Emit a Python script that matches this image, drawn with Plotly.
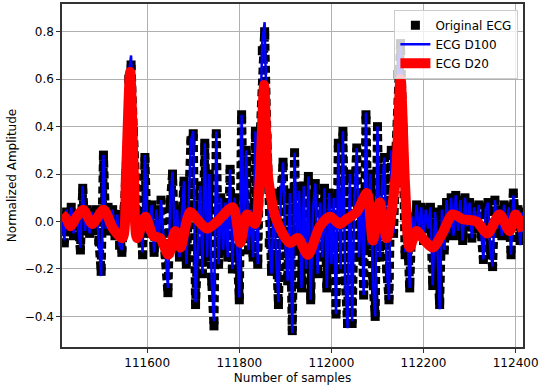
import plotly.graph_objects as go

# ---- data ----
x_start = 111415
x_step = 5

original_ecg = [
    0.02, -0.09, 0.04, -0.03, 0.06, -0.06, 0.03, -0.02, -0.12, 0.14,
    -0.04, 0.05, -0.05, 0.04, -0.03, 0.05, -0.08, -0.21, 0.28, -0.03,
    0.06, -0.04, 0.05, -0.06, 0.03, -0.10, -0.13, 0.05, 0.30, 0.60,
    0.66, 0.38, 0.05, -0.06, 0.03, -0.14, 0.27, -0.05, 0.02, 0.07,
    -0.13, 0.05, -0.08, 0.09, -0.05, -0.14, -0.30, 0.08, 0.20, -0.10,
    0.05, -0.15, 0.02, 0.17, -0.18, 0.12, 0.34, 0.37, -0.35, -0.10,
    0.15, -0.22, 0.33, -0.15, 0.20, -0.25, -0.44, 0.37, -0.18, 0.10,
    -0.12, 0.08, -0.15, 0.22, -0.20, 0.10, -0.12, -0.33, 0.45, -0.05,
    0.30, -0.12, 0.05, -0.15, 0.38, -0.18, 0.35, 0.72, 0.80, 0.35,
    -0.09, -0.21, 0.12, -0.15, -0.35, 0.10, 0.25, -0.10, -0.25, 0.12,
    -0.46, 0.29, -0.10, 0.13, -0.28, 0.15, -0.20, 0.19, -0.33, 0.05,
    0.16, -0.22, 0.08, -0.15, 0.14, -0.28, 0.12, -0.18, 0.10, -0.39,
    0.33, -0.20, 0.38, -0.25, -0.43, 0.20, -0.43, 0.10, 0.31, -0.15,
    0.12, -0.31, 0.45, -0.10, 0.20, -0.25, -0.40, 0.40, -0.15, 0.15,
    0.27, -0.20, -0.33, 0.30, -0.05, 0.30, 0.62, 0.75, 0.40, -0.14,
    -0.05, -0.28, 0.02, -0.06, 0.07, -0.04, 0.06, -0.08, 0.05, -0.03,
    0.06, -0.27, 0.04, -0.10, -0.35, 0.05, -0.12, 0.08, -0.05, 0.10,
    -0.06, 0.11, -0.04, 0.09, -0.08, 0.10, -0.02, 0.08, -0.07, 0.06,
    -0.03, 0.07, -0.05, -0.16, 0.05, 0.08, -0.12, -0.19, 0.09, -0.03,
    0.05, -0.06, 0.07, -0.04, 0.06, -0.14, 0.12, -0.02, 0.05, -0.08,
    0.04,
]

ecg_d100 = [
    0.02, -0.08, 0.05, -0.03, 0.06, -0.05, 0.03, -0.02, -0.11, 0.15,
    -0.04, 0.05, -0.05, 0.04, -0.03, 0.05, -0.08, -0.23, 0.28, -0.03,
    0.06, -0.04, 0.05, -0.06, 0.03, -0.10, -0.12, 0.05, 0.32, 0.62,
    0.70, 0.38, 0.05, -0.06, 0.03, -0.13, 0.28, -0.05, 0.02, 0.07,
    -0.13, 0.05, -0.08, 0.09, -0.05, -0.14, -0.28, 0.08, 0.21, -0.10,
    0.05, -0.15, 0.02, 0.17, -0.18, 0.12, 0.34, 0.38, -0.34, -0.10,
    0.15, -0.22, 0.33, -0.15, 0.20, -0.25, -0.42, 0.38, -0.18, 0.10,
    -0.12, 0.08, -0.15, 0.22, -0.20, 0.10, -0.12, -0.32, 0.45, -0.05,
    0.30, -0.12, 0.05, -0.15, 0.38, -0.18, 0.38, 0.76, 0.84, 0.37,
    -0.09, -0.22, 0.12, -0.15, -0.34, 0.10, 0.25, -0.10, -0.25, 0.12,
    -0.47, 0.29, -0.10, 0.13, -0.28, 0.15, -0.20, 0.19, -0.33, 0.05,
    0.16, -0.22, 0.08, -0.15, 0.14, -0.28, 0.12, -0.18, 0.10, -0.39,
    0.33, -0.20, 0.38, -0.25, -0.45, 0.20, -0.42, 0.10, 0.31, -0.15,
    0.12, -0.31, 0.46, -0.10, 0.20, -0.25, -0.40, 0.40, -0.15, 0.15,
    0.27, -0.20, -0.33, 0.30, -0.05, 0.30, 0.64, 0.74, 0.40, -0.13,
    -0.05, -0.28, 0.02, -0.06, 0.07, -0.04, 0.06, -0.08, 0.05, -0.03,
    0.06, -0.27, 0.04, -0.10, -0.37, 0.05, -0.12, 0.09, -0.05, 0.10,
    -0.06, 0.11, -0.04, 0.09, -0.08, 0.10, -0.02, 0.08, -0.07, 0.06,
    -0.03, 0.07, -0.05, -0.16, 0.05, 0.08, -0.12, -0.19, 0.09, -0.03,
    0.05, -0.06, 0.07, -0.04, 0.06, -0.14, 0.11, -0.02, 0.05, -0.10,
    0.04,
]

d20_x = [
    111415, 111425, 111433, 111447, 111461, 111481, 111505, 111526, 111546,
    111554, 111563, 111571, 111578, 111596, 111613, 111628, 111646, 111661,
    111672, 111693, 111708, 111730, 111752, 111786, 111802, 111817, 111834,
    111845, 111854, 111863, 111882, 111910, 111927, 111949, 111975, 111997,
    112018, 112033, 112055, 112077, 112090, 112105, 112120, 112140, 112150,
    112160, 112170, 112185, 112202, 112220, 112241, 112263, 112285, 112315,
    112339, 112365, 112387, 112400, 112416,
]
d20_y = [
    0.03, 0.01, -0.02, 0.02, 0.05, -0.01, 0.05, -0.03, -0.07,
    0.20, 0.63, 0.20, -0.07, 0.02, -0.06, -0.07, -0.14, -0.04,
    -0.11, 0.04, 0.01, -0.03, 0.00, 0.06, -0.09, 0.03, -0.01,
    0.20, 0.575, 0.18, 0.00, -0.09, -0.07, -0.14, -0.02, 0.02,
    -0.01, 0.01, 0.04, 0.12, -0.08, 0.08, -0.07, 0.20, 0.60,
    0.15, -0.11, -0.04, -0.08, -0.11, -0.05, 0.03, 0.01, 0.00,
    -0.05, 0.03, -0.04, 0.03, -0.04,
]

x_tick_vals = [111600, 111800, 112000, 112200, 112400]
y_tick_vals = [-0.4, -0.2, 0.0, 0.2, 0.4, 0.6, 0.8]

samples = [x_start + i * x_step for i in range(len(original_ecg))]

fig = go.Figure()

# dashed-looking black band under the original ECG markers
fig.add_trace(go.Scatter(
    x=samples, y=original_ecg, mode="lines",
    line=dict(color="black", width=9, dash="7px,4px"),
    showlegend=False, hoverinfo="skip",
))
fig.add_trace(go.Scatter(
    x=samples, y=original_ecg, mode="markers", name="Original ECG",
    marker=dict(symbol="square", size=9, color="black"),
))
fig.add_trace(go.Scatter(
    x=samples, y=ecg_d100, mode="lines", name="ECG D100",
    line=dict(color="#0000ff", width=2.5),
))
fig.add_trace(go.Scatter(
    x=d20_x, y=d20_y, mode="lines", name="ECG D20",
    line=dict(color="#ff0000", width=10, shape="spline", smoothing=0.8),
))

axis_common = dict(
    showgrid=True, gridcolor="#b0b0b0", gridwidth=1,
    showline=True, linecolor="#333333", linewidth=1.5, mirror=True,
    ticks="outside", ticklen=4, tickcolor="#333333",
    zeroline=False, tickfont=dict(size=12, color="black"),
    automargin=False,
)

fig.update_layout(
    width=540, height=391,
    margin=dict(l=62, r=17, t=4, b=44),
    paper_bgcolor="white", plot_bgcolor="white",
    font=dict(family="DejaVu Sans", size=12, color="black"),
    xaxis=dict(
        range=[111415, 112416], tickvals=x_tick_vals,
        ticktext=[str(v) for v in x_tick_vals],
        title=dict(text="Number of samples", standoff=4, font=dict(size=12)),
        **axis_common,
    ),
    yaxis=dict(
        range=[-0.529, 0.917], tickvals=y_tick_vals, tickformat=".1f",
        title=dict(text="Normalized Amplitude", standoff=6, font=dict(size=12)),
        **axis_common,
    ),
    legend=dict(
        x=0.99, y=0.983, xanchor="right", yanchor="top",
        bgcolor="rgba(255,255,255,0.8)", bordercolor="#cccccc", borderwidth=1,
        font=dict(size=12), tracegroupgap=0, itemwidth=30,
    ),
)

fig.write_html(
    "out.html",
    config={"displayModeBar": False},
    post_script="document.body.style.margin='0';document.body.style.overflow='hidden';",
)
